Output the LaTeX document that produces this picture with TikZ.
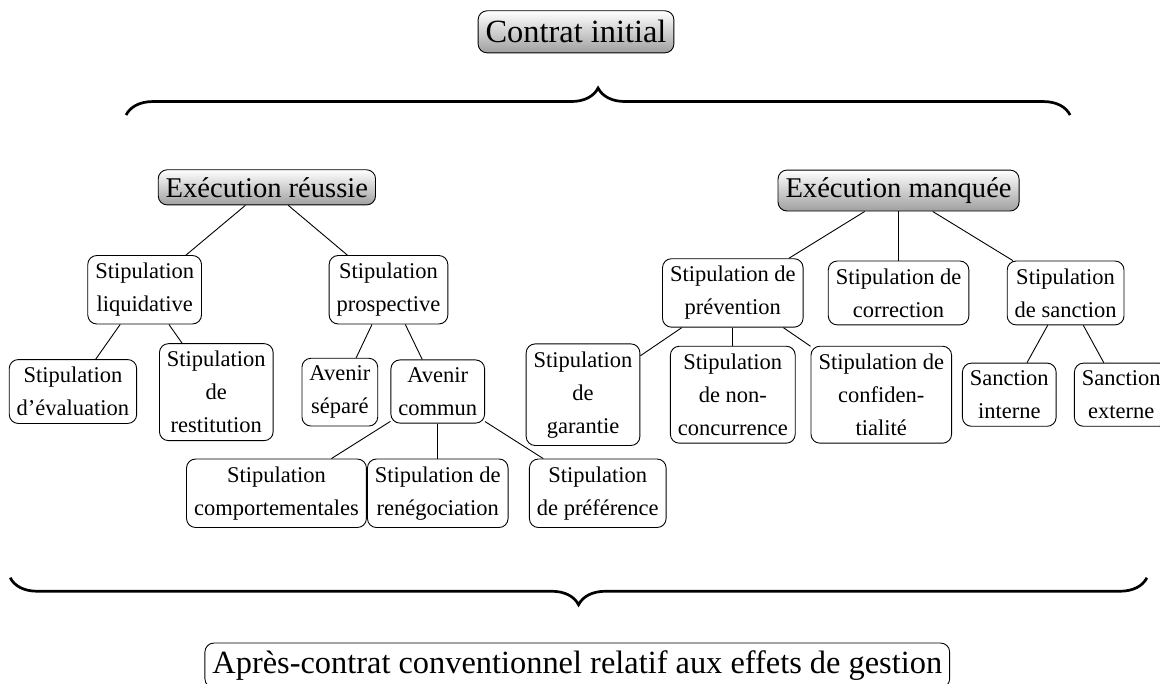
\documentclass[tikz,border=0pt]{standalone}
\usepackage{fontspec}
\setmainfont{Liberation Serif}
\usetikzlibrary{decorations.pathreplacing}

\begin{document}
\begin{tikzpicture}
	\tikzset{boite/.style={draw=black, rounded corners=4pt, align=center, font=\fontsize{10pt}{14.7pt}\selectfont},
	titre/.style={draw=black, rounded corners=4pt, top color=white, bottom color=gray!75, font=\fontsize{12.7pt}{15pt}\selectfont},
	accolade/.style={decorate, decoration={brace, amplitude=12pt}, line width=1.2pt},
	lien/.style={thin}};

	\useasboundingbox (0, 0) rectangle (18.125, 10.6875);

	% haut
	\node[titre, font=\fontsize{14.4pt}{16pt}\selectfont, minimum height=18.7pt] (contrat) at (9.0, 10.19) {Contrat initial};
	\coordinate (hg) at (1.97, 8.89);
	\coordinate (hd) at (16.72, 8.89);
	\draw[accolade] (hg) -- (hd);

	\node[titre] (reussie) at (4.17, 7.76) {Exécution réussie};
	\node[titre] (manquee) at (14.04, 7.71) {Exécution manquée};

	% execution reussie
	\node[boite] (liquidative) at (2.26, 6.16) {Stipulation\\liquidative};
	\node[boite] (prospective) at (6.07, 6.16) {Stipulation\\prospective};
	\node[boite] (evaluation) at (1.14, 4.57) {Stipulation\\d'évaluation};
	\node[boite] (restitution) at (3.38, 4.56) {Stipulation\\de\\restitution};
	\node[boite] (separe) at (5.31, 4.56) {Avenir\\séparé};
	\node[boite] (commun) at (6.84, 4.57) {Avenir\\commun};
	\node[boite] (comportement) at (4.32, 2.98) {Stipulation\\comportementales};
	\node[boite] (renegociation) at (6.84, 2.98) {Stipulation de\\renégociation};
	\node[boite] (preference) at (9.34, 2.98) {Stipulation\\de préférence};

	% execution manquee
	\node[boite] (prevention) at (11.45, 6.11) {Stipulation de\\prévention};
	\node[boite] (correction) at (14.04, 6.11) {Stipulation de\\correction};
	\node[boite] (sanction) at (16.65, 6.11) {Stipulation\\de sanction};
	\node[boite] (garantie) at (9.11, 4.52) {Stipulation\\de\\garantie};
	\node[boite] (nonconcurrence) at (11.45, 4.52) {Stipulation\\de non-\\concurrence};
	\node[boite] (confidentialite) at (13.77, 4.52) {Stipulation de\\confiden-\\tialité};
	\node[boite] (interne) at (15.77, 4.52) {Sanction\\interne};
	\node[boite] (externe) at (17.52, 4.52) {Sanction\\externe};

	\foreach \a/\b in {reussie/liquidative, reussie/prospective, liquidative/evaluation, liquidative/restitution,
	prospective/separe, prospective/commun, commun/comportement, commun/renegociation, commun/preference,
	manquee/prevention, manquee/correction, manquee/sanction, prevention/garantie, prevention/nonconcurrence,
	prevention/confidentialite, sanction/interne, sanction/externe}{
		\draw[lien] (\a) -- (\b);
	}

	% bas
	\coordinate (bg) at (0.16, 1.66);
	\coordinate (bd) at (17.92, 1.66);
	\draw[accolade] (bd) -- (bg);
	\node[boite, font=\fontsize{14.4pt}{16pt}\selectfont] (apres) at (9.02, 0.29) {Après-contrat conventionnel relatif aux effets de gestion};

\end{tikzpicture}
\end{document}
